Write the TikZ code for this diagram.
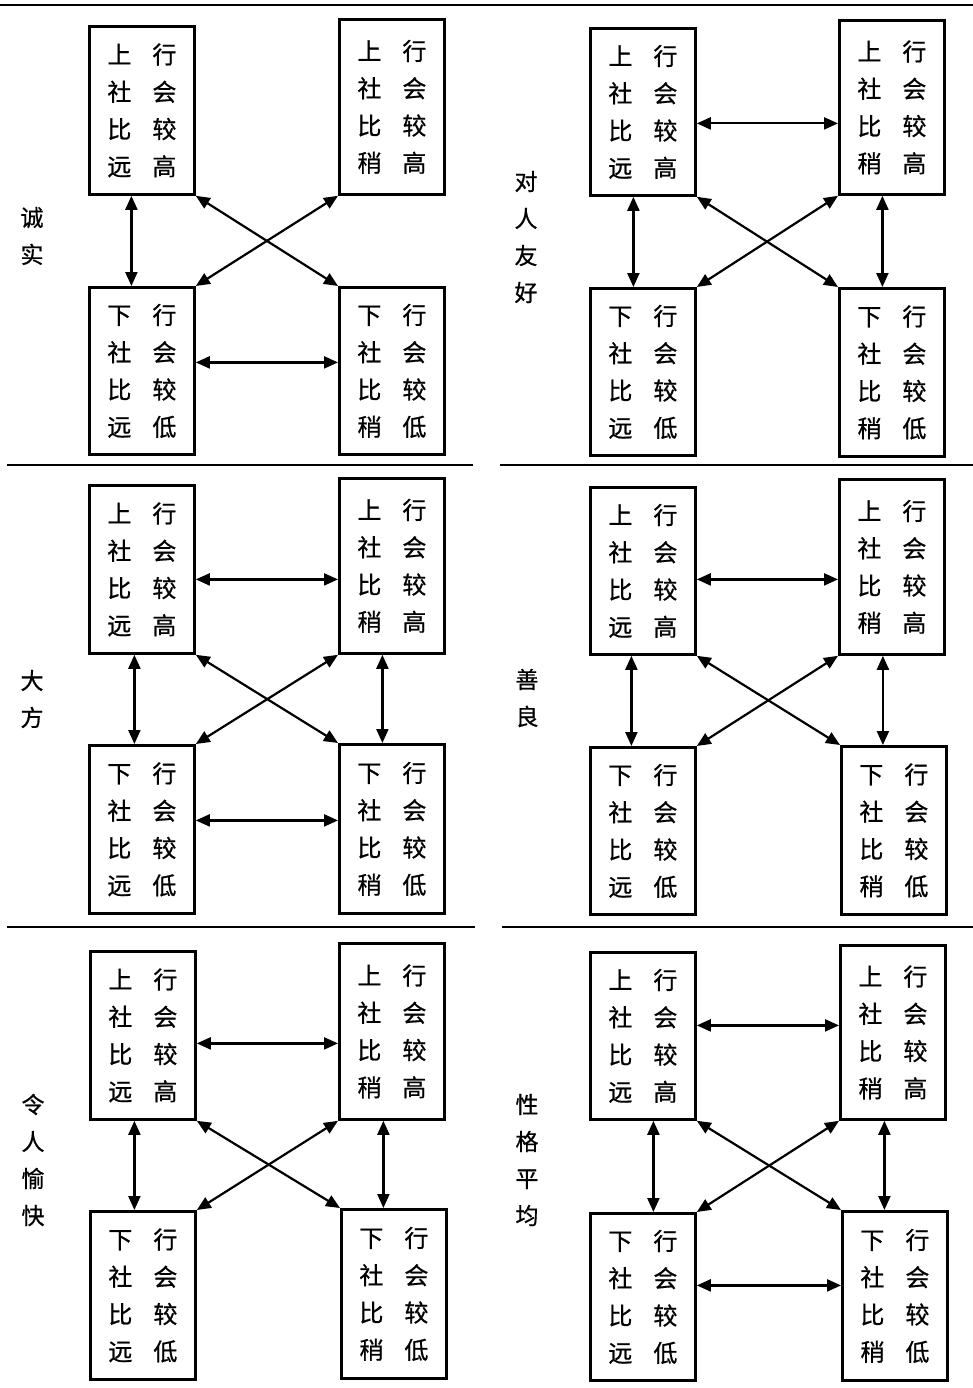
\documentclass[tikz,border=0pt]{standalone}
\usepackage{fontspec}
\setmainfont{Noto Sans CJK SC}[FakeBold=0.7]
\usepackage{tikz}
\usetikzlibrary{arrows.meta}

\newcommand{\gp}{\hspace{21pt}}
\newcommand{\upfar}{上\gp 行\\社\gp 会\\比\gp 较\\远\gp 高}
\newcommand{\upnear}{上\gp 行\\社\gp 会\\比\gp 较\\稍\gp 高}
\newcommand{\downfar}{下\gp 行\\社\gp 会\\比\gp 较\\远\gp 低}
\newcommand{\downnear}{下\gp 行\\社\gp 会\\比\gp 较\\稍\gp 低}

\tikzset{
  cell/.style={draw, line width=2.8pt, anchor=north west, minimum width=105pt,
    inner sep=0pt, align=center, font=\fontsize{24pt}{37.3pt}\selectfont},
  trait/.style={align=center, inner sep=0pt, font=\fontsize{23pt}{37pt}\selectfont},
  link/.style={{Triangle[length=14pt,width=12pt]}-{Triangle[length=14pt,width=12pt]}, line width=2.2pt},
  rule/.style={line width=2.6pt}
}

\begin{document}
\begin{tikzpicture}[x=1pt,y=-1pt]
          \useasboundingbox (0,0) rectangle (973,1388);

          % rules between the panels
          \draw[rule] (0,5) -- (973,5);
          \draw[rule] (7,465) -- (473,465);
          \draw[rule] (500,465) -- (973,465);
          \draw[rule] (7,927) -- (475,927);
          \draw[rule] (502,927) -- (973,927);

          % 诚实
          \node[trait] (lbl1) at (32,236) {诚\\实};
          \node[cell, minimum height=168pt] (a1) at (88,25) {\upfar};
          \node[cell, minimum height=175pt] (b1) at (338,18) {\upnear};
          \node[cell, minimum height=167pt] (c1) at (88,286) {\downfar};
          \node[cell, minimum height=167pt] (d1) at (338,286) {\downnear};
          \draw[link] ([xshift=-10.5pt]a1.south) -- ([xshift=-10.5pt]a1.south |- c1.north);
          \draw[link] (a1.south east) -- (d1.north west);
          \draw[link] (b1.south west) -- (c1.north east);
          \draw[link] ([yshift=8.5pt]c1.east) -- ([yshift=8.5pt]c1.east -| d1.west);

          % 对人友好
          \node[trait] (lbl2) at (526,237) {对\\人\\友\\好};
          \node[cell, minimum height=167pt] (a2) at (589,27) {\upfar};
          \node[cell, minimum height=174pt] (b2) at (838,19) {\upnear};
          \node[cell, minimum height=167pt] (c2) at (589,287) {\downfar};
          \node[cell, minimum height=168pt] (d2) at (838,287) {\downnear};
          \draw[link] ([yshift=-11.5pt]a2.east) -- ([yshift=-11.5pt]a2.east -| b2.west);
          \draw[link] ([xshift=-9.5pt]a2.south) -- ([xshift=-9.5pt]a2.south |- c2.north);
          \draw[link] ([xshift=-9.5pt]b2.south) -- ([xshift=-9.5pt]b2.south |- d2.north);
          \draw[link] (a2.south east) -- (d2.north west);
          \draw[link] (b2.south west) -- (c2.north east);

          % 大方
          \node[trait] (lbl3) at (32,699) {大\\方};
          \node[cell, minimum height=168pt] (a3) at (88,484) {\upfar};
          \node[cell, minimum height=175pt] (b3) at (338,477) {\upnear};
          \node[cell, minimum height=168pt] (c3) at (88,744) {\downfar};
          \node[cell, minimum height=169pt] (d3) at (338,743) {\downnear};
          \draw[link] ([yshift=-10pt]a3.east) -- ([yshift=-10pt]a3.east -| b3.west);
          \draw[link] ([xshift=-7.5pt]a3.south) -- ([xshift=-7.5pt]a3.south |- c3.north);
          \draw[link] ([xshift=-9.5pt]b3.south) -- ([xshift=-9.5pt]b3.south |- d3.north);
          \draw[link] (a3.south east) -- (d3.north west);
          \draw[link] (b3.south west) -- (c3.north east);
          \draw[link] ([yshift=9pt]c3.east) -- ([yshift=9pt]c3.east -| d3.west);

          % 善良
          \node[trait] (lbl4) at (527,698) {善\\良};
          \node[cell, minimum height=167pt] (a4) at (589,486) {\upfar};
          \node[cell, minimum height=175pt] (b4) at (838,478) {\upnear};
          \node[cell, minimum height=167pt] (c4) at (589,746) {\downfar};
          \node[cell, minimum height=168pt] (d4) at (840,745) {\downnear};
          \draw[link] ([yshift=-8.5pt]a4.east) -- ([yshift=-8.5pt]a4.east -| b4.west);
          \draw[link] ([xshift=-11.5pt]a4.south) -- ([xshift=-11.5pt]a4.south |- c4.north);
          \draw[link] ([xshift=-9pt]b4.south) -- ([xshift=-9pt]b4.south |- d4.north);
          \draw[link] (a4.south east) -- (d4.north west);
          \draw[link] (b4.south west) -- (c4.north east);

          % 令人愉快
          \node[trait] (lbl5) at (33,1160) {令\\人\\愉\\快};
          \node[cell, minimum height=168pt] (a5) at (89,950) {\upfar};
          \node[cell, minimum height=176pt] (b5) at (338,942) {\upnear};
          \node[cell, minimum height=168pt] (c5) at (89,1210) {\downfar};
          \node[cell, minimum height=169pt] (d5) at (340,1208) {\downnear};
          \draw[link] ([yshift=-8pt]a5.east) -- ([yshift=-8pt]a5.east -| b5.west);
          \draw[link] ([xshift=-8.5pt]a5.south) -- ([xshift=-8.5pt]a5.south |- c5.north);
          \draw[link] ([xshift=-8.5pt]b5.south) -- ([xshift=-8.5pt]b5.south |- d5.north);
          \draw[link] (a5.south east) -- (d5.north west);
          \draw[link] (b5.south west) -- (c5.north east);

          % 性格平均
          \node[trait] (lbl6) at (527,1160) {性\\格\\平\\均};
          \node[cell, minimum height=167pt] (a6) at (589,951) {\upfar};
          \node[cell, minimum height=174pt] (b6) at (839,944) {\upnear};
          \node[cell, minimum height=167pt] (c6) at (589,1212) {\downfar};
          \node[cell, minimum height=169pt] (d6) at (841,1210) {\downnear};
          \draw[link] ([yshift=10.5pt]a6.east) -- ([yshift=10.5pt]a6.east -| b6.west);
          \draw[link] ([xshift=10.5pt]a6.south) -- ([xshift=10.5pt]a6.south |- c6.north);
          \draw[link] ([xshift=-8.5pt]b6.south) -- ([xshift=-8.5pt]b6.south |- d6.north);
          \draw[link] (a6.south east) -- (d6.north west);
          \draw[link] (b6.south west) -- (c6.north east);
          \draw[link] ([yshift=11.5pt]c6.east) -- ([yshift=11.5pt]c6.east -| d6.west);

\end{tikzpicture}
\end{document}
